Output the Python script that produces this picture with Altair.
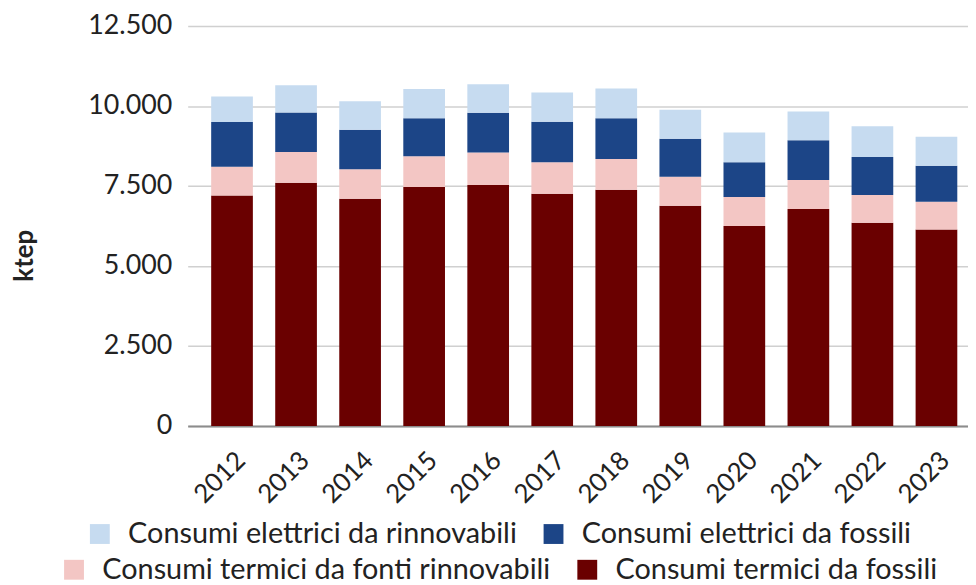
import altair as alt
import pandas as pd

years = ["2012", "2013", "2014", "2015", "2016", "2017", "2018", "2019", "2020", "2021", "2022", "2023"]
termici_fossili = [7200, 7600, 7100, 7470, 7530, 7260, 7380, 6880, 6250, 6780, 6350, 6140]
termici_rinnovabili = [900, 960, 920, 960, 1020, 980, 960, 910, 910, 910, 870, 870]
elettrici_fossili = [1400, 1240, 1240, 1190, 1240, 1270, 1280, 1190, 1085, 1240, 1190, 1120]
elettrici_rinnovabili = [800, 850, 890, 910, 890, 910, 930, 900, 930, 900, 960, 910]

s_el_r = "Consumi elettrici da rinnovabili"
s_el_f = "Consumi elettrici da fossili"
s_te_r = "Consumi termici da fonti rinnovabili"
s_te_f = "Consumi termici da fossili"

series = [
    (s_te_f, "termici", 0, termici_fossili),
    (s_te_r, "termici", 1, termici_rinnovabili),
    (s_el_f, "elettrici", 2, elettrici_fossili),
    (s_el_r, "elettrici", 3, elettrici_rinnovabili),
]
rows = []
for name, grp, order, vals in series:
    for y, v in zip(years, vals):
        rows.append({"year": y, "serie": name, "gruppo": grp, "ordine": order, "value": v})
df = pd.DataFrame(rows)

FONT = "Lato"
TXT = "#222222"

xenc = alt.X(
    "year:O",
    title=None,
    scale=alt.Scale(paddingInner=0.349, paddingOuter=0.267, align=0.687),
    axis=alt.Axis(
        labelAngle=-45, labelFont=FONT, labelFontSize=26, labelColor=TXT,
        labelPadding=21, ticks=False, grid=False,
        domainColor="#8c8c8c", domainWidth=2,
    ),
)
yaxis = alt.Axis(
    values=[0, 2500, 5000, 7500, 10000, 12500],
    labelExpr="replace(format(datum.value, ','), ',', '.')",
    labelFont=FONT, labelFontSize=27, labelColor=TXT, labelPadding=16,
    ticks=False, domain=False,
    gridColor="#d0d0d0", gridWidth=1.5,
    title="ktep", titleFont=FONT, titleFontSize=26, titleFontWeight="bold",
    titleColor=TXT, titleX=-164, titleY=231, titleAlign="center", titleBaseline="middle",
)
yenc = alt.Y("y1:Q", scale=alt.Scale(domain=[0, 12500]), axis=yaxis, title="ktep")

def legend(x, y):
    return alt.Legend(
        title=None, orient="none", legendX=x, legendY=y, direction="horizontal",
        symbolType="square", symbolSize=400, symbolStrokeWidth=0,
        labelFont=FONT, labelFontSize=29, labelColor=TXT, labelOffset=14,
        columnPadding=22, padding=0, labelLimit=0,
    )

base = alt.Chart(df).transform_stack(
    stack="value", groupby=["year"], as_=["y0", "y1"],
    sort=[alt.SortField("ordine", order="ascending")],
)

el = base.transform_filter(alt.datum.gruppo == "elettrici").mark_bar().encode(
    x=xenc, y=yenc, y2="y0:Q",
    color=alt.Color("serie:N", scale=alt.Scale(domain=[s_el_r, s_el_f], range=["#c6dbf0", "#1c4587"]),
                    legend=legend(-103, 497)),
)
te = base.transform_filter(alt.datum.gruppo == "termici").mark_bar().encode(
    x=xenc, y=yenc, y2="y0:Q",
    color=alt.Color("serie:N", scale=alt.Scale(domain=[s_te_r, s_te_f], range=["#f3c6c4", "#6a0000"]),
                    legend=legend(-129, 533)),
)

chart = alt.layer(te, el).resolve_scale(color="independent").properties(
    width=786, height=403,
    autosize=alt.AutoSizeParams(type="none"),
    padding={"left": 181, "top": 16, "right": 0, "bottom": 158},
).configure_view(stroke=None)

chart.save("out.html", embed_options={"renderer": "svg", "actions": False})
